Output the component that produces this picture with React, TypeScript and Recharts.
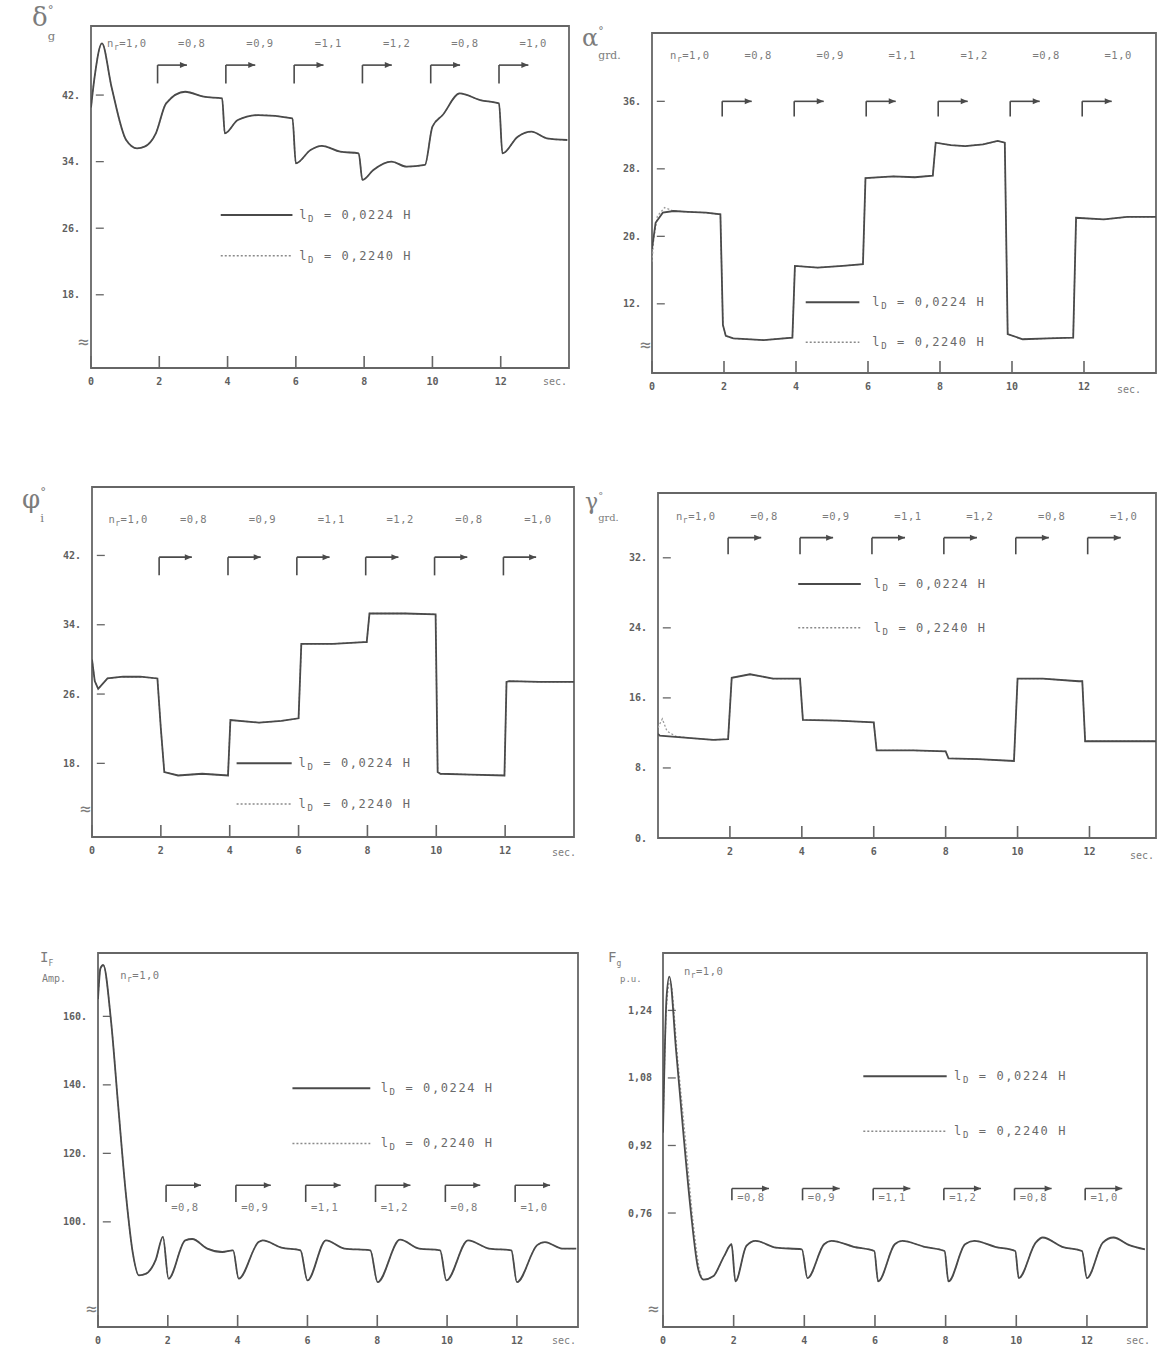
import React from 'react';
import {
  LineChart,
  Line,
  XAxis,
  YAxis,
  ReferenceLine,
  ReferenceDot,
  ReferenceArea,
} from 'recharts';

// shared time axis (sec.) and the switching sequence of n_r
const timeTicks = [0, 2, 4, 6, 8, 10, 12];
const timeTicksNoZero = [2, 4, 6, 8, 10, 12];
const switchTimes = [2, 4, 6, 8, 10, 12];
const stepLabels = ['=1,0', '=0,8', '=0,9', '=1,1', '=1,2', '=0,8', '=1,0'];
const legendLabels = ['0,0224 H', '0,2240 H'];

// delta (load angle)
const deltaT = [0, 0.1, 0.32, 0.6, 1.03, 1.35, 1.57, 1.9, 2.2, 2.76, 3.3, 3.84, 3.92, 4.3, 4.9, 5.9, 6.0, 6.43, 6.76, 7.3, 7.84, 7.95, 8.27, 8.8, 9.24, 9.78, 10.0, 10.3, 10.8, 11.4, 11.95, 12.05, 12.5, 12.9, 13.35, 13.95];
const deltaV = [40.5, 44, 48.2, 43, 36.6, 35.6, 35.8, 37.4, 41, 42.4, 41.8, 41.6, 37.4, 39, 39.6, 39.2, 33.8, 35.4, 35.9, 35.2, 35, 31.8, 33, 34, 33.4, 33.6, 38.2, 39.6, 42.2, 41.4, 41, 35, 37, 37.6, 36.8, 36.6];
const deltaTicks = [18, 26, 34, 42];

// alpha (grd.)
const alphaT = [0, 0.1, 0.3, 0.6, 1.0, 1.5, 1.9, 1.97, 2.05, 2.26, 3.1, 3.9, 3.97, 4.6, 5.3, 5.86, 5.93, 6.7, 7.3, 7.8, 7.88, 8.3, 8.7, 9.2, 9.6, 9.8, 9.88, 10.3, 11.0, 11.7, 11.78, 12.55, 13.2, 14.0];
const alphaV = [18.5, 21.6, 22.8, 23.0, 22.9, 22.8, 22.6, 9.5, 8.2, 7.9, 7.7, 8.0, 16.5, 16.3, 16.5, 16.7, 26.9, 27.1, 27.0, 27.2, 31.1, 30.8, 30.7, 30.9, 31.3, 31.1, 8.4, 7.8, 7.9, 8.0, 22.2, 22.0, 22.3, 22.3];
const alphaDotT = [0, 0.05, 0.15, 0.35, 0.6];
const alphaDotV = [17.0, 19.8, 22.4, 23.4, 23.0];
const alphaTicks = [12, 20, 28, 36];

// phi
const phiT = [0, 0.08, 0.18, 0.45, 0.9, 1.4, 1.9, 2.0, 2.1, 2.5, 3.2, 3.95, 4.02, 4.85, 5.5, 6.0, 6.08, 7.0, 7.9, 7.98, 8.06, 9.1, 9.98, 10.04, 10.12, 11.0, 11.98, 12.04, 12.12, 13.0, 14.0];
const phiV = [30.0, 27.5, 26.6, 27.8, 28.0, 28.0, 27.8, 22.0, 17.0, 16.6, 16.8, 16.6, 23.0, 22.7, 22.9, 23.2, 31.8, 31.8, 32.0, 32.0, 35.3, 35.3, 35.2, 17.0, 16.8, 16.7, 16.6, 27.4, 27.5, 27.4, 27.4];
const phiTicks = [18, 26, 34, 42];

// gamma (grd.)
const gammaT = [0, 0.05, 0.92, 1.54, 1.95, 2.05, 2.56, 3.2, 3.95, 4.03, 5.0, 6.0, 6.08, 7.1, 8.0, 8.08, 8.9, 9.9, 10.0, 10.7, 11.7, 11.8, 11.88, 13.85];
const gammaV = [11.9, 11.7, 11.4, 11.2, 11.3, 18.3, 18.7, 18.2, 18.2, 13.5, 13.4, 13.2, 10.0, 10.0, 9.9, 9.1, 9.0, 8.8, 18.2, 18.2, 17.9, 17.9, 11.05, 11.05];
const gammaDotT = [0, 0.12, 0.25, 0.5];
const gammaDotV = [12.6, 13.6, 12.2, 11.6];
const gammaTicks = [0, 8, 16, 24, 32];

// field current I_F (Amp.)
const ifT = [0, 0.07, 0.15, 0.37, 0.58, 0.8, 1.0, 1.17, 1.38, 1.65, 1.86, 2.02, 2.5, 2.7, 3.13, 3.56, 3.87, 4.03, 4.6, 4.72, 5.25, 5.8, 6.0, 6.53, 7.06, 7.8, 8.01, 8.65, 9.2, 9.8, 9.98, 10.6, 11.2, 11.84, 12.0, 12.58, 12.8, 13.3, 13.7];
const ifV = [165, 174, 175, 159, 133.7, 108, 90.7, 84.4, 84.9, 88.8, 95.6, 83.4, 94.6, 95.0, 92.2, 91.2, 91.7, 83.4, 94.1, 94.6, 92.5, 91.7, 82.9, 94.6, 92.2, 91.7, 82.4, 94.8, 92.2, 91.7, 82.9, 94.6, 92.2, 91.7, 82.4, 93.2, 94.1, 92.2, 92.2];
const ifTicks = [100, 120, 140, 160];

// F_g (p.u.)
const fT = [0, 0.1, 0.18, 0.37, 0.58, 0.79, 1.0, 1.15, 1.42, 1.73, 1.94, 2.05, 2.36, 2.62, 3.2, 3.93, 4.09, 4.56, 4.77, 5.4, 5.98, 6.09, 6.56, 6.77, 7.4, 7.97, 8.08, 8.55, 8.81, 9.4, 9.97, 10.07, 10.55, 10.75, 11.3, 11.86, 12.0, 12.45, 12.75, 13.2, 13.64];
const fV = [0.95, 1.27, 1.32, 1.146, 0.946, 0.762, 0.626, 0.602, 0.61, 0.658, 0.686, 0.598, 0.682, 0.694, 0.678, 0.674, 0.606, 0.686, 0.694, 0.68, 0.67, 0.598, 0.686, 0.694, 0.68, 0.67, 0.598, 0.686, 0.694, 0.68, 0.67, 0.606, 0.69, 0.702, 0.68, 0.67, 0.606, 0.69, 0.702, 0.684, 0.674];
const fDotT = [0, 0.1, 0.2, 0.42, 0.65, 0.85, 1.05];
const fDotV = [0.95, 1.25, 1.31, 1.12, 0.92, 0.74, 0.62];
const fTicks = [0.76, 0.92, 1.08, 1.24];

type Pt = { t: number; v: number };
const zip = (ts: number[], vs: number[]): Pt[] => ts.map((t, i) => ({ t, v: vs[i] }));
const withHead = (head: Pt[], body: Pt[]): Pt[] => [
  ...head,
  ...body.filter((p) => p.t > head[head.length - 1].t),
];

const INK = '#4a4a4a';
const FRAME = '#666666';
const TXT = '#7c7c7c';
const TICK_TXT = '#5e5e5e';
const MONO = '"DejaVu Sans Mono", monospace';

const textShape =
  (content: React.ReactNode, anchor: 'start' | 'middle' | 'end', size: number, spacing = 0.5, color = TXT) =>
  (p: any) =>
    (
      <text
        x={p.cx}
        y={p.cy}
        textAnchor={anchor}
        dominantBaseline="central"
        fontFamily={MONO}
        fontSize={size}
        letterSpacing={spacing}
        fill={color}
      >
        {content}
      </text>
    );

const arrowShape = (p: any) => (
  <polygon
    points={`${p.cx},${p.cy} ${p.cx - 7},${p.cy - 3} ${p.cx - 7},${p.cy + 3}`}
    fill={INK}
  />
);

const nrLabel = (rest: string) => (
  <>
    <tspan>n</tspan>
    <tspan dy={4} fontSize={8}>r</tspan>
    <tspan dy={-4}>{rest}</tspan>
  </>
);

const legendLabel = (value: string) => (
  <>
    <tspan>l</tspan>
    <tspan dy={4} fontSize={9}>D</tspan>
    <tspan dy={-4}>{` = ${value}`}</tspan>
  </>
);

interface Marks {
  kind: 'top' | 'inline';
  labelY: number;
  barLow: number;
  barHigh: number;
  barLen: number;
  nrAt?: [number, number];
}

interface Legend {
  solidY: number;
  dottedY: number;
  x1: number;
  x2: number;
  textX: number;
}

interface PanelProps {
  frame: [number, number, number, number];
  xMax: number;
  yDomain: [number, number];
  xTicks: number[];
  yTicks: number[];
  yFmt: (v: number) => string;
  solid: Pt[];
  dotted: Pt[];
  marks: Marks;
  legend: Legend;
  smooth?: boolean;
}

function Panel({ frame, xMax, yDomain, xTicks, yTicks, yFmt, solid, dotted, marks, legend, smooth }: PanelProps) {
  const [l, t, r, b] = frame;
  const axisW = 60;
  const axisH = 32;
  const m = { left: 0, top: 20, right: 15, bottom: 0 };
  const w = r - l + axisW + m.right;
  const h = b - t + m.top + axisH;
  const tickStyle = { fill: TICK_TXT, fontSize: 10, fontFamily: MONO, fontWeight: 700 };
  // inward tick lengths, in data units (12px up from the x axis, 8px right of the y axis)
  const xTickLen = ((yDomain[1] - yDomain[0]) * 12) / (b - t);
  const yTickLen = (xMax * 8) / (r - l);
  const curve = smooth ? 'monotone' : 'linear';

  return (
    <div style={{ position: 'absolute', left: l - axisW, top: t - m.top }}>
      <LineChart width={w} height={h} margin={m} data={solid}>
        <XAxis
          dataKey="t"
          type="number"
          domain={[0, xMax]}
          ticks={xTicks}
          height={axisH}
          tickSize={0}
          tickMargin={10}
          axisLine={false}
          tickLine={false}
          tick={tickStyle}
          allowDataOverflow
        />
        <YAxis
          type="number"
          domain={yDomain}
          ticks={yTicks}
          width={axisW}
          tickSize={0}
          tickMargin={11}
          axisLine={false}
          tickLine={false}
          tick={tickStyle}
          tickFormatter={yFmt}
          allowDataOverflow
        />
        <ReferenceArea
          x1={0}
          x2={xMax}
          y1={yDomain[0]}
          y2={yDomain[1]}
          fill="none"
          stroke={FRAME}
          strokeWidth={1.8}
          ifOverflow="visible"
        />

        {/* inward tick marks */}
        {xTicks.map((x) => (
          <ReferenceLine
            key={`xt-${x}`}
            segment={[
              { x, y: yDomain[0] },
              { x, y: yDomain[0] + xTickLen },
            ]}
            stroke={FRAME}
            strokeWidth={1.6}
            ifOverflow="visible"
          />
        ))}
        {yTicks.map((y) => (
          <ReferenceLine
            key={`yt-${y}`}
            segment={[
              { x: yTickLen * 0.6, y },
              { x: yTickLen * 1.6, y },
            ]}
            stroke={FRAME}
            strokeWidth={1.3}
            ifOverflow="visible"
          />
        ))}

        {/* n_r step markers and labels */}
        {marks.kind === 'top' &&
          stepLabels.map((s, i) => (
            <ReferenceDot
              key={`lab-${i}`}
              x={i === 0 ? 1.05 : 2 * i + 0.95}
              y={marks.labelY}
              r={0}
              ifOverflow="visible"
              shape={textShape(i === 0 ? nrLabel(s) : s, 'middle', 10.5)}
            />
          ))}
        {marks.kind === 'inline' && marks.nrAt && (
          <ReferenceDot
            x={marks.nrAt[0]}
            y={marks.nrAt[1]}
            r={0}
            ifOverflow="visible"
            shape={textShape(nrLabel(stepLabels[0]), 'middle', 10.5)}
          />
        )}
        {switchTimes.map((st, i) => (
          <ReferenceLine
            key={`mv-${i}`}
            segment={[
              { x: st - 0.05, y: marks.barLow },
              { x: st - 0.05, y: marks.barHigh },
            ]}
            stroke={INK}
            strokeWidth={1.6}
            ifOverflow="visible"
          />
        ))}
        {switchTimes.map((st, i) => (
          <ReferenceLine
            key={`mh-${i}`}
            segment={[
              { x: st - 0.05, y: marks.barHigh },
              { x: st - 0.05 + marks.barLen, y: marks.barHigh },
            ]}
            stroke={INK}
            strokeWidth={1.6}
            ifOverflow="visible"
          />
        ))}
        {switchTimes.map((st, i) => (
          <ReferenceDot
            key={`ma-${i}`}
            x={st - 0.05 + marks.barLen}
            y={marks.barHigh}
            r={0}
            ifOverflow="visible"
            shape={arrowShape}
          />
        ))}
        {marks.kind === 'inline' &&
          switchTimes.map((st, i) => (
            <ReferenceDot
              key={`il-${i}`}
              x={st + 0.1}
              y={marks.labelY}
              r={0}
              ifOverflow="visible"
              shape={textShape(stepLabels[i + 1], 'start', 10.5)}
            />
          ))}

        {/* legend */}
        <ReferenceLine
          segment={[
            { x: legend.x1, y: legend.solidY },
            { x: legend.x2, y: legend.solidY },
          ]}
          stroke={INK}
          strokeWidth={2}
          ifOverflow="visible"
        />
        <ReferenceLine
          segment={[
            { x: legend.x1, y: legend.dottedY },
            { x: legend.x2, y: legend.dottedY },
          ]}
          stroke="#8a8a8a"
          strokeWidth={1.5}
          strokeDasharray="2 2"
          ifOverflow="visible"
        />
        <ReferenceDot
          x={legend.textX}
          y={legend.solidY}
          r={0}
          ifOverflow="visible"
          shape={textShape(legendLabel(legendLabels[0]), 'start', 12, 1.6, '#6a6a6a')}
        />
        <ReferenceDot
          x={legend.textX}
          y={legend.dottedY}
          r={0}
          ifOverflow="visible"
          shape={textShape(legendLabel(legendLabels[1]), 'start', 12, 1.6, '#6a6a6a')}
        />

        <Line
          data={dotted}
          dataKey="v"
          type={curve}
          stroke="#9a9a9a"
          strokeWidth={1.3}
          strokeDasharray="2 2"
          dot={false}
          isAnimationActive={false}
        />
        <Line
          dataKey="v"
          type={curve}
          stroke={INK}
          strokeWidth={1.8}
          dot={false}
          isAnimationActive={false}
        />
      </LineChart>
    </div>
  );
}

const dotFmt = (v: number) => `${v}.`;
const commaFmt = (v: number) => v.toFixed(2).replace('.', ',');

const note = (left: number, top: number, size: number, content: React.ReactNode, family = MONO) => (
  <div
    style={{
      position: 'absolute',
      left,
      top,
      fontSize: size,
      fontFamily: family,
      color: TXT,
      lineHeight: 1,
      whiteSpace: 'nowrap',
    }}
  >
    {content}
  </div>
);

const subSup = (base: string, sub: string, sup: string, size: number) => (
  <span>
    {base}
    <span style={{ display: 'inline-block', verticalAlign: 'top', fontSize: size * 0.45, lineHeight: 1.1 }}>
      {sup}
      <br />
      <br />
      {sub}
    </span>
  </span>
);

export default function App() {
  const deltaData = zip(deltaT, deltaV);
  const alphaData = zip(alphaT, alphaV);
  const phiData = zip(phiT, phiV);
  const gammaData = zip(gammaT, gammaV);
  const ifData = zip(ifT, ifV);
  const fData = zip(fT, fV);

  return (
    <div
      style={{
        position: 'absolute',
        left: 0,
        top: 0,
        width: 1157,
        height: 1351,
        overflow: 'hidden',
        background: '#ffffff',
      }}
    >
      <Panel
        frame={[91, 26, 569, 368]}
        xMax={14}
        yDomain={[9.2, 50.3]}
        xTicks={timeTicks}
        yTicks={deltaTicks}
        yFmt={dotFmt}
        solid={deltaData}
        dotted={deltaData}
        marks={{ kind: 'top', labelY: 48.2, barLow: 43.4, barHigh: 45.6, barLen: 0.86 }}
        legend={{ solidY: 27.6, dottedY: 22.7, x1: 3.8, x2: 5.9, textX: 6.1 }}
        smooth
      />
      <Panel
        frame={[652, 33, 1156, 373]}
        xMax={14}
        yDomain={[3.8, 44.1]}
        xTicks={timeTicks}
        yTicks={alphaTicks}
        yFmt={dotFmt}
        solid={alphaData}
        dotted={withHead(zip(alphaDotT, alphaDotV), alphaData)}
        marks={{ kind: 'top', labelY: 41.5, barLow: 34.2, barHigh: 36, barLen: 0.82 }}
        legend={{ solidY: 12.2, dottedY: 7.45, x1: 4.27, x2: 5.76, textX: 6.12 }}
      />
      <Panel
        frame={[92, 487, 574, 837]}
        xMax={14}
        yDomain={[9.5, 49.9]}
        xTicks={timeTicks}
        yTicks={phiTicks}
        yFmt={dotFmt}
        solid={phiData}
        dotted={phiData}
        marks={{ kind: 'top', labelY: 46.2, barLow: 39.7, barHigh: 41.8, barLen: 0.95 }}
        legend={{ solidY: 18.0, dottedY: 13.3, x1: 4.2, x2: 5.8, textX: 6.0 }}
      />
      <Panel
        frame={[658, 493, 1156, 838]}
        xMax={13.85}
        yDomain={[0, 39.4]}
        xTicks={timeTicksNoZero}
        yTicks={gammaTicks}
        yFmt={dotFmt}
        solid={gammaData}
        dotted={withHead(zip(gammaDotT, gammaDotV), gammaData)}
        marks={{ kind: 'top', labelY: 36.8, barLow: 32.4, barHigh: 34.3, barLen: 0.92 }}
        legend={{ solidY: 29.0, dottedY: 24.0, x1: 3.9, x2: 5.64, textX: 6.0 }}
      />
      <Panel
        frame={[98, 953, 578, 1327]}
        xMax={13.75}
        yDomain={[69.3, 178.5]}
        xTicks={timeTicks}
        yTicks={ifTicks}
        yFmt={dotFmt}
        solid={ifData}
        dotted={ifData}
        marks={{ kind: 'inline', labelY: 104.2, barLow: 105.8, barHigh: 110.7, barLen: 1.0, nrAt: [1.2, 172.2] }}
        legend={{ solidY: 139, dottedY: 122.9, x1: 5.57, x2: 7.8, textX: 8.1 }}
        smooth
      />
      <Panel
        frame={[663, 953, 1147, 1327]}
        xMax={13.7}
        yDomain={[0.49, 1.376]}
        xTicks={timeTicks}
        yTicks={fTicks}
        yFmt={commaFmt}
        solid={fData}
        dotted={withHead(zip(fDotT, fDotV), fData)}
        marks={{ kind: 'inline', labelY: 0.797, barLow: 0.79, barHigh: 0.818, barLen: 1.05, nrAt: [1.15, 1.334] }}
        legend={{ solidY: 1.084, dottedY: 0.954, x1: 5.67, x2: 8.03, textX: 8.24 }}
        smooth
      />

      {/* axis symbols */}
      {note(32, 4, 26, subSup('δ', 'g', '°', 26), '"DejaVu Serif", serif')}
      {note(582, 26, 24, subSup('α', 'grd.', '°', 24), '"DejaVu Serif", serif')}
      {note(22, 486, 26, subSup('φ', 'i', '°', 26), '"DejaVu Serif", serif')}
      {note(585, 491, 22, subSup('γ', 'grd.', '°', 22), '"DejaVu Serif", serif')}
      {note(40, 950, 14, <span>I<sub style={{ fontSize: 8 }}>F</sub></span>)}
      {note(42, 974, 10, 'Amp.')}
      {note(608, 950, 14, <span>F<sub style={{ fontSize: 8 }}>g</sub></span>)}
      {note(620, 975, 9, 'p.u.')}

      {/* time unit */}
      {note(543, 377, 10, 'sec.')}
      {note(1117, 385, 10, 'sec.')}
      {note(552, 848, 10, 'sec.')}
      {note(1130, 851, 10, 'sec.')}
      {note(552, 1336, 10, 'sec.')}
      {note(1126, 1336, 10, 'sec.')}

      {/* axis breaks */}
      {note(78, 333, 18, '≈')}
      {note(640, 336, 18, '≈')}
      {note(80, 800, 18, '≈')}
      {note(86, 1300, 18, '≈')}
      {note(648, 1300, 18, '≈')}
    </div>
  );
}
